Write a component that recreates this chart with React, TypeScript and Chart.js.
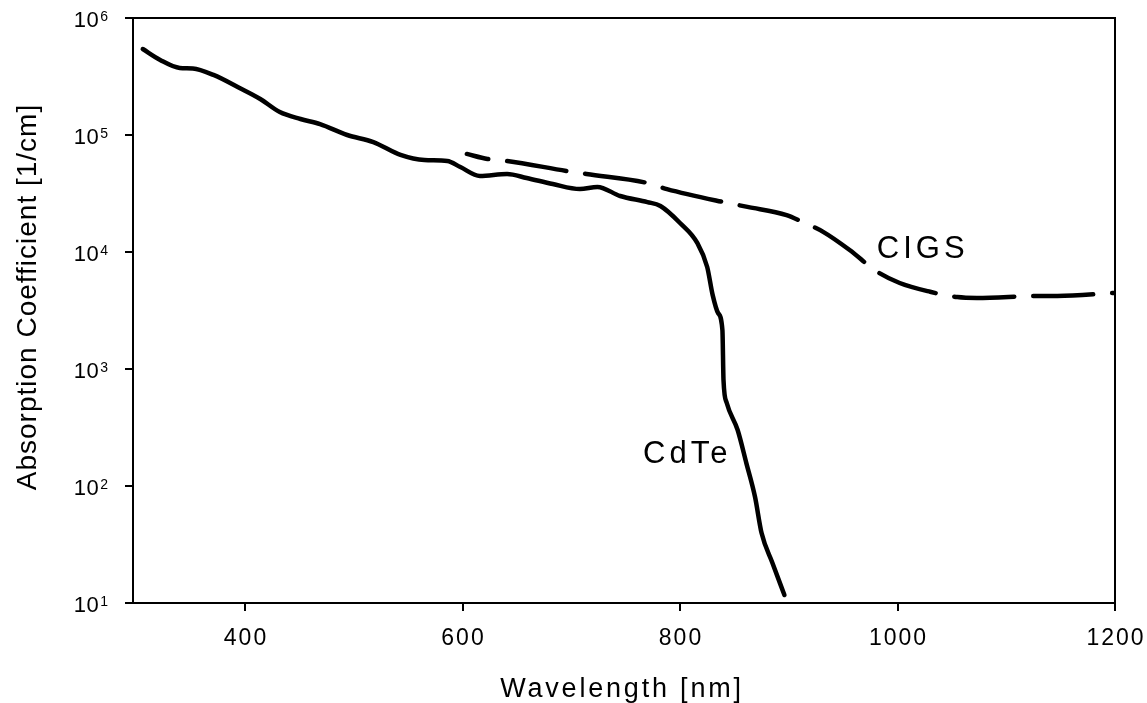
import React, { useEffect, useRef } from 'react';
import { Chart, registerables } from 'chart.js';

Chart.register(...registerables);

// ---- Data ----
const cdteWavelength = [306, 322, 340, 352, 371, 395, 414, 432, 451, 469, 494, 518, 543, 565, 586, 598, 616, 641, 659, 683, 708, 724, 745, 770, 782, 800, 816, 825, 830, 835, 839, 840, 843, 853, 861, 869, 875, 885, 896];
const cdteAbsorption = [543000, 438000, 374000, 370000, 326000, 252000, 203000, 157000, 137000, 124000, 100000, 87000, 67500, 61000, 60000, 53200, 44700, 46400, 42900, 38100, 34500, 36000, 30100, 26700, 24700, 17700, 11900, 7450, 4300, 3010, 2150, 805, 512, 301, 157, 80.5, 39.6, 22, 11.7];

const cigsWavelength = [604, 623, 641, 696, 714, 770, 788, 840, 862, 898, 913, 932, 956, 980, 1002, 1030, 1055, 1073, 1131, 1147, 1200];
const cigsAbsorption = [68900, 62400, 60000, 49200, 46400, 38900, 34500, 26700, 24300, 20700, 18000, 14800, 10400, 6900, 5430, 4570, 4120, 4050, 4210, 4210, 4470];

const xTickValues = [400, 600, 800, 1000, 1200];
const yTickExponents = [1, 2, 3, 4, 5, 6];
const xAxisTitle = 'Wavelength [nm]';
const yAxisTitle = 'Absorption Coefficient [1/cm]';
const seriesNames = ['CdTe', 'CIGS'];
// label anchors in data units [wavelength, absorption]
const cdteLabelAt = [766, 157];
const cigsLabelAt = [981, 8900];

const FONT = '"Liberation Sans", Arial, Helvetica, sans-serif';

const textPlugin = {
  id: 'customText',
  afterDraw(chart: any) {
    const ctx = chart.ctx as CanvasRenderingContext2D & { letterSpacing?: string };
    const { left, right, top, bottom } = chart.chartArea;
    const xs = chart.scales.x;
    const ys = chart.scales.y;
    ctx.save();
    // top & right frame
    ctx.strokeStyle = '#000';
    ctx.lineWidth = 2;
    ctx.beginPath();
    ctx.moveTo(left, top);
    ctx.lineTo(right, top);
    ctx.lineTo(right, bottom);
    ctx.stroke();

    ctx.fillStyle = '#000';
    // x tick labels
    ctx.font = `23px ${FONT}`;
    ctx.letterSpacing = '2px';
    ctx.textAlign = 'center';
    ctx.textBaseline = 'alphabetic';
    xTickValues.forEach((v) => {
      ctx.fillText(String(v), xs.getPixelForValue(v) + 1, bottom + 42);
    });

    // y tick labels 10^n
    ctx.textAlign = 'right';
    yTickExponents.forEach((e) => {
      const y = ys.getPixelForValue(Math.pow(10, e));
      const xr = left - 25;
      ctx.font = `14px ${FONT}`;
      ctx.letterSpacing = '0px';
      const exp = String(e);
      const w = ctx.measureText(exp).width;
      ctx.fillText(exp, xr, y + 3);
      ctx.font = `22px ${FONT}`;
      ctx.letterSpacing = '0.5px';
      ctx.fillText('10', xr - w - 1, y + 9);
    });

    // x title
    ctx.font = `27px ${FONT}`;
    ctx.letterSpacing = '2.8px';
    ctx.textAlign = 'center';
    ctx.fillText(xAxisTitle, (left + right) / 2 - 2, bottom + 94);

    // y title
    ctx.save();
    ctx.translate(28, 297);
    ctx.rotate(-Math.PI / 2);
    ctx.font = `28px ${FONT}`;
    ctx.letterSpacing = '1px';
    ctx.textAlign = 'center';
    ctx.textBaseline = 'middle';
    ctx.fillText(yAxisTitle, 0, 0);
    ctx.restore();

    // series labels
    ctx.font = `31px ${FONT}`;
    ctx.letterSpacing = '4px';
    ctx.textAlign = 'left';
    ctx.textBaseline = 'alphabetic';
    ctx.fillText(seriesNames[0], xs.getPixelForValue(cdteLabelAt[0]), ys.getPixelForValue(cdteLabelAt[1]));
    ctx.fillText(seriesNames[1], xs.getPixelForValue(cigsLabelAt[0]), ys.getPixelForValue(cigsLabelAt[1]));
    ctx.restore();
  },
};

export default function App() {
  const ref = useRef<HTMLCanvasElement | null>(null);
  useEffect(() => {
    if (!ref.current) return;
    const chart = new Chart(ref.current, {
      type: 'line',
      data: {
        datasets: [
          {
            label: seriesNames[0],
            data: cdteWavelength.map((x, i) => ({ x, y: cdteAbsorption[i] })),
            borderColor: '#000',
            borderWidth: 4.5,
            pointRadius: 0,
            fill: false,
            cubicInterpolationMode: 'monotone',
            borderCapStyle: 'round',
            borderJoinStyle: 'round',
          },
          {
            label: seriesNames[1],
            data: cigsWavelength.map((x, i) => ({ x, y: cigsAbsorption[i] })),
            borderColor: '#000',
            borderWidth: 4.5,
            pointRadius: 0,
            fill: false,
            cubicInterpolationMode: 'monotone',
            borderDash: [60, 19],
            borderDashOffset: 38,
            borderCapStyle: 'round',
            borderJoinStyle: 'round',
          },
        ],
      } as any,
      options: {
        responsive: false,
        animation: false,
        devicePixelRatio: 1,
        layout: { padding: { top: 18, right: 32, left: 0, bottom: 0 } },
        plugins: { legend: { display: false }, tooltip: { enabled: false } },
        scales: {
          x: {
            type: 'linear',
            min: 297,
            max: 1200,
            afterBuildTicks: (s: any) => {
              s.ticks = xTickValues.map((v) => ({ value: v }));
            },
            afterFit: (s: any) => {
              s.height = 100;
            },
            ticks: { display: false },
            grid: { drawOnChartArea: false, drawTicks: true, tickLength: 8, color: '#000', lineWidth: 2 },
            border: { display: true, color: '#000', width: 2 },
          },
          y: {
            type: 'logarithmic',
            min: 10,
            max: 1e6,
            afterBuildTicks: (s: any) => {
              s.ticks = yTickExponents.map((e) => ({ value: Math.pow(10, e) }));
            },
            afterFit: (s: any) => {
              s.width = 133;
            },
            ticks: { display: false },
            grid: { drawOnChartArea: false, drawTicks: true, tickLength: 8, color: '#000', lineWidth: 2 },
            border: { display: true, color: '#000', width: 2 },
          },
        },
      } as any,
      plugins: [textPlugin],
    });
    return () => chart.destroy();
  }, []);
  return (
    <div style={{ position: 'absolute', left: 0, top: 0, width: 1147, height: 703, background: '#fff' }}>
      <canvas ref={ref} width={1147} height={703} style={{ display: 'block' }} />
    </div>
  );
}
